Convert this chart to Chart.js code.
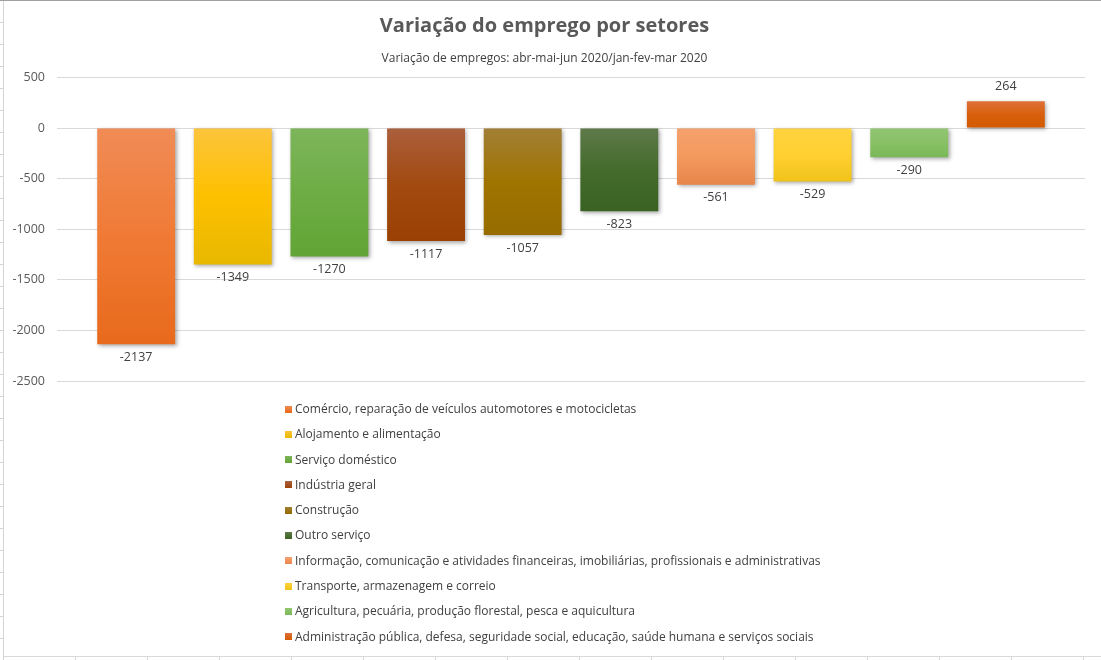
<!DOCTYPE html>
<html>
<head>
<meta charset="utf-8">
<script src="https://cdn.jsdelivr.net/npm/chart.js@4.4.1/dist/chart.umd.min.js"></script>
<style>
  html, body { margin: 0; padding: 0; width: 1101px; height: 660px; overflow: hidden; background: #fff; }
  #sheet {
    position: absolute; left: 0; top: 0; width: 1101px; height: 660px;
    background-color: #fff;
    background-image:
      linear-gradient(to right, #d4d4d4 1px, transparent 1px),
      linear-gradient(to bottom, #d4d4d4 1px, transparent 1px);
    background-size: 72px 22px, 72px 22px;
    background-position: 3px 0, 0 0;
  }
  #topline { position: absolute; left: 0; top: 0; width: 1101px; height: 1px; background: #a0a0a0; }
  #frame {
    position: absolute; left: 4px; top: 1px; width: 1097px; height: 655px;
    background: #fff; border-bottom: 1px solid #d9d9d9;
  }
  canvas { display: block; }
</style>
</head>
<body>
<div id="sheet"></div>
<div id="topline"></div>
<div id="frame"><canvas id="c" width="1097" height="655"></canvas></div>
<script>
// ---- Data ----
const titleText = 'Variação do emprego por setores';
const subtitleText = 'Variação de empregos: abr-mai-jun 2020/jan-fev-mar 2020';
const categories = ['abr-mai-jun 2020/jan-fev-mar 2020'];
const sectors = [
  'Comércio, reparação de veículos automotores e motocicletas',
  'Alojamento e alimentação',
  'Serviço doméstico',
  'Indústria geral',
  'Construção',
  'Outro serviço',
  'Informação, comunicação e atividades financeiras, imobiliárias, profissionais e administrativas',
  'Transporte, armazenagem e correio',
  'Agricultura, pecuária, produção florestal, pesca e aquicultura',
  'Administração pública, defesa, seguridade social, educação, saúde humana e serviços sociais'
];
const values = [-2137, -1349, -1270, -1117, -1057, -823, -561, -529, -290, 264];
const yMin = -2500, yMax = 500, yStep = 500;

// ---- Styles ----
const colTop = ['#f08c56', '#fcc43c', '#7db55b', '#ab5f3d', '#a27f36', '#5e7a4a', '#f5a06d', '#ffd340', '#92c672', '#de7038'];
const colMid = ['#f07a35', '#fec000', '#6ead45', '#a24a10', '#a07400', '#446b2c', '#f39a5e', '#ffd030', '#88c066', '#d8600c'];
const colBot = ['#e86a1c', '#e8b800', '#62a435', '#9a4003', '#966c00', '#3a6223', '#e8854a', '#f0c31a', '#7ab856', '#d25a00'];

function barGradient(ctx) {
  const i = ctx.datasetIndex;
  const chart = ctx.chart;
  if (!chart.chartArea || !chart.scales.y) return colMid[i];
  const v = ctx.dataset.data[ctx.dataIndex];
  const ys = chart.scales.y;
  const p1 = ys.getPixelForValue(Math.max(v, 0));
  const p2 = ys.getPixelForValue(Math.min(v, 0));
  if (!isFinite(p1) || !isFinite(p2) || p1 === p2) return colMid[i];
  const g = chart.ctx.createLinearGradient(0, p1, 0, p2);
  g.addColorStop(0, colTop[i]);
  g.addColorStop(0.5, colMid[i]);
  g.addColorStop(1, colBot[i]);
  return g;
}

const FONT = "'Open Sans', 'Noto Sans', 'DejaVu Sans', sans-serif";

const shadowPlugin = {
  id: 'barShadow',
  beforeDatasetsDraw(chart) {
    const c = chart.ctx;
    c.save();
    c.shadowColor = 'rgba(0,0,0,0.35)';
    c.shadowBlur = 4;
    c.shadowOffsetX = 1.5;
    c.shadowOffsetY = 1.5;
  },
  afterDatasetsDraw(chart) {
    chart.ctx.restore();
  }
};

const labelPlugin = {
  id: 'valueLabels',
  afterDraw(chart) {
    const c = chart.ctx;
    c.save();
    c.font = '12.5px ' + FONT;
    c.fillStyle = '#404040';
    c.textAlign = 'center';
    c.textBaseline = 'middle';
    chart.data.datasets.forEach((ds, di) => {
      const meta = chart.getDatasetMeta(di);
      meta.data.forEach((bar, j) => {
        const v = ds.data[j];
        const y = v < 0 ? bar.y + 13 : bar.y - 15;
        c.fillText(String(v), bar.x, y);
      });
    });
    c.restore();
  }
};

const legendPlugin = {
  id: 'columnLegend',
  afterDraw(chart) {
    const c = chart.ctx;
    c.save();
    c.font = '12px ' + FONT;
    c.textBaseline = 'middle';
    const box = 7, gap = 3;
    let maxW = 0;
    chart.data.datasets.forEach(ds => { maxW = Math.max(maxW, c.measureText(ds.label).width); });
    const totalW = box + gap + maxW;
    const x0 = Math.round(chart.width / 2 - totalW / 2);
    const y0 = 408, step = 25.3;
    chart.data.datasets.forEach((ds, i) => {
      const y = y0 + i * step;
      const g = c.createLinearGradient(0, y - box / 2, 0, y + box / 2);
      g.addColorStop(0, colTop[i]);
      g.addColorStop(1, colBot[i]);
      c.fillStyle = g;
      c.fillRect(x0, Math.round(y - box / 2), box, box);
      c.fillStyle = '#404040';
      c.fillText(ds.label, x0 + box + gap, y + 0.5);
    });
    c.restore();
  }
};

const datasets = sectors.map((name, i) => ({
  label: name,
  data: [values[i]],
  backgroundColor: barGradient,
  borderWidth: 0,
  barPercentage: 0.806,
  categoryPercentage: 0.94
}));

new Chart(document.getElementById('c'), {
  type: 'bar',
  data: { labels: categories, datasets },
  options: {
    responsive: false,
    animation: false,
    layout: { padding: { left: 0, right: 16, top: 0, bottom: 275 } },
    plugins: {
      legend: { display: false },
      tooltip: { enabled: false },
      title: {
        display: true, text: titleText, color: '#595959',
        font: { family: FONT, size: 20, weight: 'bold' },
        padding: { top: 13, bottom: 13 }
      },
      subtitle: {
        display: true, text: subtitleText, color: '#404040',
        font: { family: FONT, size: 12 },
        padding: { top: 0, bottom: 12 }
      }
    },
    scales: {
      x: { display: false },
      y: {
        min: yMin, max: yMax,
        ticks: {
          stepSize: yStep, color: '#595959', font: { family: FONT, size: 12.5 }, padding: 12,
          callback: (v) => String(v)
        },
        grid: { color: '#d9d9d9', drawTicks: false, lineWidth: 1 },
        border: { display: false },
        afterFit(scale) { scale.width = 53; }
      }
    }
  },
  plugins: [shadowPlugin, labelPlugin, legendPlugin]
});
</script>
</body>
</html>
